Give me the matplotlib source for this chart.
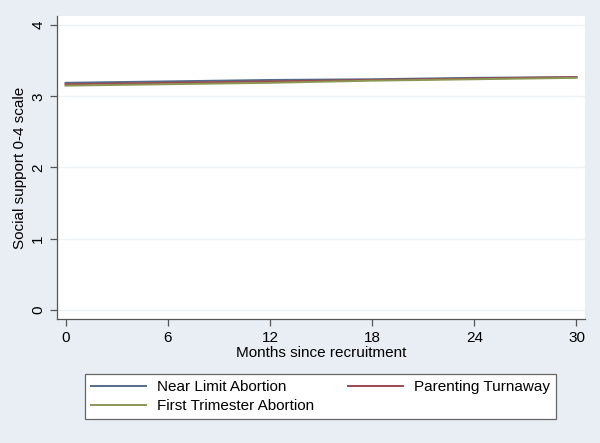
#!/usr/bin/env python3
"""Social support over months since recruitment, three study groups."""

import matplotlib
matplotlib.use("Agg")
import matplotlib.pyplot as plt

plt.rcParams["font.family"] = ["Liberation Sans", "DejaVu Sans"]

# values
months = [0, 6, 12, 18, 24, 30]
near_limit = [3.19, 3.21, 3.23, 3.24, 3.26, 3.27]
parenting = [3.17, 3.19, 3.21, 3.23, 3.25, 3.27]
first_tri = [3.15, 3.17, 3.19, 3.22, 3.24, 3.26]
labels = ["Near Limit Abortion", "Parenting Turnaway", "First Trimester Abortion"]
xticks = [0, 6, 12, 18, 24, 30]
yticks = [0, 1, 2, 3, 4]

BG = "#e8eef3"
SPINE = "#555555"
FS = 11

fig = plt.figure(figsize=(6.0, 4.43), dpi=100, facecolor=BG)
ax = fig.add_axes([0.095, 0.28, 0.88, 0.684])
ax.set_facecolor("white")

l1, = ax.plot(months, near_limit, color="#516b8a", lw=1.4, label=labels[0])
l2, = ax.plot(months, parenting, color="#9a4a50", lw=1.4, label=labels[1])
l3, = ax.plot(months, first_tri, color="#8c9652", lw=1.4, label=labels[2])

ax.set_xlim(-0.5, 30.5)
ax.set_ylim(-0.13, 4.13)
ax.set_xticks(xticks)
ax.set_yticks(yticks)
ax.set_yticklabels([str(v) for v in yticks], rotation=90, va="center")
ax.grid(axis="y", color="#eef2f5", lw=1.0)
ax.set_axisbelow(True)

for side in ["top", "right"]:
    ax.spines[side].set_visible(False)
for side in ["left", "bottom"]:
    ax.spines[side].set_color(SPINE)
    ax.spines[side].set_linewidth(0.9)
ax.tick_params(colors=SPINE, labelcolor="black", labelsize=FS, length=5, width=0.9)
ax.tick_params(axis="x", pad=4)

ax.set_xlabel("Months since recruitment", fontsize=FS, labelpad=0.5)
ax.set_ylabel("Social support 0-4 scale", fontsize=FS, labelpad=3)

# matplotlib fills legend columns first, so order for a row-wise layout
leg = fig.legend(
    [l1, l3, l2], [labels[0], labels[2], labels[1]],
    ncol=2, loc="lower left", mode="expand",
    bbox_to_anchor=(0.142, 0.054, 0.785, 0.111), fontsize=FS,
    handlelength=3.6, handletextpad=0.7, fancybox=False, framealpha=1,
    edgecolor="#666666", borderaxespad=0, labelspacing=0.3,
)
leg.get_frame().set_linewidth(0.9)

fig.savefig("out.png", dpi=100, facecolor=BG)
